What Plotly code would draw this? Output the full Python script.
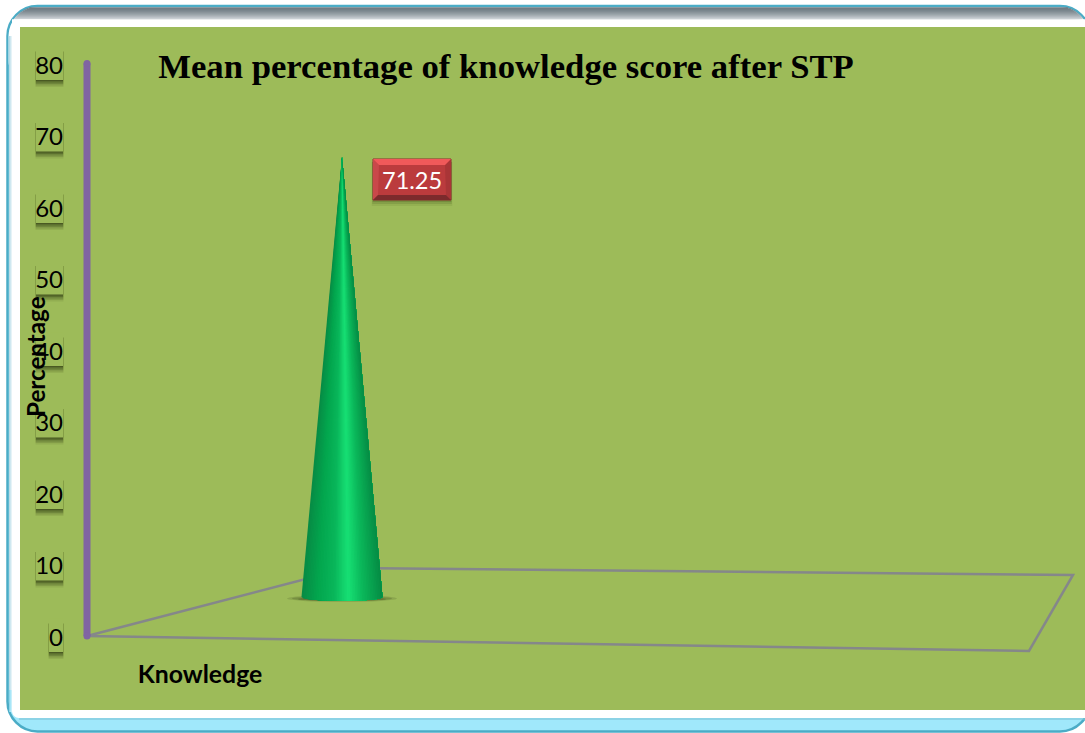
import math
import plotly.graph_objects as go

# ---- data ----
categories = ["Knowledge"]
series_name = "Mean percentage"
series_values = [71.25]
y_ticks = [0, 10, 20, 30, 40, 50, 60, 70, 80]
title_text = "Mean percentage of knowledge score after STP"
y_title = "Percentage"

# ---- page geometry ----
W, H = 1085, 733
L, T, R, B = 64, 40, 0, 77
Y0_PX, Y80_PX = 637.5, 65.5
PER_UNIT = (Y0_PX - Y80_PX) / 80.0
SANS = "Lato"


def val(py):
    return (Y0_PX - py) / PER_UNIT


def xp(px):
    return (px - L) / (W - L - R)


def yp(py):
    return 1 - (py - T) / (H - T - B)


def rounded(x0, y0, x1, y1, r):
    k = 0.45 * r
    pts = [
        f"M{xp(x0+r)},{yp(y0)}", f"L{xp(x1-r)},{yp(y0)}",
        f"C{xp(x1-k)},{yp(y0)} {xp(x1)},{yp(y0+k)} {xp(x1)},{yp(y0+r)}",
        f"L{xp(x1)},{yp(y1-r)}",
        f"C{xp(x1)},{yp(y1-k)} {xp(x1-k)},{yp(y1)} {xp(x1-r)},{yp(y1)}",
        f"L{xp(x0+r)},{yp(y1)}",
        f"C{xp(x0+k)},{yp(y1)} {xp(x0)},{yp(y1-k)} {xp(x0)},{yp(y1-r)}",
        f"L{xp(x0)},{yp(y0+r)}",
        f"C{xp(x0)},{yp(y0+k)} {xp(x0+k)},{yp(y0)} {xp(x0+r)},{yp(y0)} Z",
    ]
    return " ".join(pts)


def mix(a, b, t):
    return "#" + "".join(
        f"{round(int(a[i:i+2],16)*(1-t)+int(b[i:i+2],16)*t):02x}" for i in (1, 3, 5)
    )


def ramp(stops, u):
    for (u0, c0), (u1, c1) in zip(stops, stops[1:]):
        if u <= u1:
            return mix(c0, c1, (u - u0) / (u1 - u0))
    return stops[-1][1]


def prect(x0, y0, x1, y1, fill, opacity=1.0):
    return dict(type="rect", xref="paper", yref="paper", x0=xp(x0), x1=xp(x1),
                y0=yp(y1), y1=yp(y0), fillcolor=fill, opacity=opacity,
                line=dict(width=0), layer="below")


FRAME_R = 30
shapes = []
# outer frame, cyan base so the lower band shows
shapes.append(dict(type="path", xref="paper", yref="paper", layer="below",
                   path=rounded(7.5, 6, 1090, 731.5, FRAME_R), fillcolor="#a0e8fb",
                   line=dict(color="#4bacc6", width=2.5)))
# top of the inner sheet follows the frame's rounded corners
shapes.append(dict(type="path", xref="paper", yref="paper", layer="below",
                   path=rounded(8.6, 7.2, 1088.8, 90, FRAME_R - 1), fillcolor="#ffffff",
                   line=dict(width=0)))
# grey gradient band along the top, following the rounded corners
for i in range(12):
    py = 7.3 + i
    t = (i / 11) ** 1.5
    off = FRAME_R - math.sqrt(max(FRAME_R ** 2 - (FRAME_R - i - 1.5) ** 2, 0))
    shapes.append(prect(8.6 + off, py, 1088.8 - off, 19.3, mix("#6f7b83", "#ccd2d6", t)))
# pale strip down the left
for i, c in enumerate(["#b9dbe6", "#cfe8f0", "#e6f3f7"]):
    shapes.append(prect(9 + i, 36, 10 + i, 690, c))
for i, c in enumerate(["#8fd6ea", "#a8e6f7", "#c8effa"]):
    shapes.append(prect(9 + i, 690, 10 + i, 712, c))
# main white sheet, straight to the right edge, small radius bottom-left
shapes.append(dict(type="path", xref="paper", yref="paper", layer="below",
                   path=rounded(12, 19.3, 1110, 718, 7), fillcolor="#ffffff", line=dict(width=0)))
shapes.append(prect(12, 19.3, 60, 40, "#ffffff"))
# bottom band top edge
shapes.append(prect(19, 718, W, 720, "#7fc4d8", 0.6))
# plot panel
shapes.append(prect(20, 27, W, 710, "#9dbb59"))

# tick-label plates with a soft shadow beneath
for v in y_ticks:
    cy = Y0_PX - v * PER_UNIT - 2
    left = 49 if v == 0 else 36
    for grow, op in [(7, 0.10), (5.5, 0.16), (4, 0.22), (2.5, 0.3), (1, 0.4)]:
        shapes.append(prect(left - grow * 0.06, cy - 12, 63 + grow * 0.06, cy + 16.5 + grow,
                            "#2f3a12", op))
    shapes.append(prect(left, cy - 17, 63, cy + 16.5, "#9dbb59"))

# shadow on the floor under the cone
for x0, x1, y0, y1, op in [(287, 397, 595, 602, 0.18), (292, 392, 596, 601, 0.25), (298, 386, 597, 601, 0.35)]:
    shapes.append(dict(type="circle", xref="x", yref="y", x0=x0, x1=x1,
                       y0=val(y1), y1=val(y0), fillcolor="#3d4a1c", opacity=op,
                       line=dict(width=0), layer="below"))

# data label plate
LX0, LX1, LY0, LY1 = 373, 451, 159, 200
for g, op in [(6, 0.10), (4, 0.16), (2, 0.22)]:
    shapes.append(dict(type="rect", xref="x", yref="y", x0=LX0 - g * 0.2, x1=LX1 + g * 0.2,
                       y0=val(LY1 + g), y1=val(LY0 + 3), fillcolor="#3a4a18", opacity=op,
                       line=dict(width=0), layer="below"))
shapes.append(dict(type="rect", xref="x", yref="y", x0=LX0, x1=LX1, y0=val(LY1), y1=val(LY0),
                   fillcolor="#bb3b3d", line=dict(color="#8a2c2c", width=1), layer="below"))
bevels = [
    ("#c9484a", [(LX0, LY0), (LX0 + 6, LY0 + 6), (LX0 + 5, LY1 - 5), (LX0, LY1)]),
    ("#a93537", [(LX1, LY0), (LX1 - 6, LY0 + 6), (LX1 - 5, LY1 - 5), (LX1, LY1)]),
    ("#f0595a", [(LX0, LY0), (LX1, LY0), (LX1 - 6, LY0 + 6), (LX0 + 6, LY0 + 6)]),
    ("#7c2a2c", [(LX0, LY1), (LX1, LY1), (LX1 - 5, LY1 - 5), (LX0 + 5, LY1 - 5)]),
]
for col, pts in bevels:
    d = "M" + " L".join(f"{px},{val(py)}" for px, py in pts) + " Z"
    shapes.append(dict(type="path", xref="x", yref="y", layer="below", line=dict(width=0),
                       fillcolor=col, path=d))

fig = go.Figure()

# floor of the 3-D chart
floor_x = [87, 348, 1073, 1029, 87]
floor_y = [val(636), val(568), val(575), val(651), val(636)]
fig.add_trace(go.Scatter(x=floor_x, y=floor_y, mode="lines", hoverinfo="skip", showlegend=False,
                         line=dict(color="#85878a", width=2.5)))

# value axis post (its ends sit just off the label positions in the 3-D view)
fig.add_trace(go.Scatter(x=[87, 87], y=[val(636), val(63.5)], mode="lines+markers", hoverinfo="skip",
                         showlegend=False, line=dict(color="#8064a2", width=7),
                         marker=dict(color="#8064a2", size=7)))

# the cone: its height comes from the value, foreshortened by the 3-D view
CX, CR = 342, 40.5
BASE_V = val(601)
TOP_V = val(157)
DEPTH = (TOP_V - BASE_V) / series_values[0]
top_v = BASE_V + series_values[0] * DEPTH
stops = [(-1, "#078b44"), (-0.6, "#03a64e"), (-0.2, "#09b65a"), (0.16, "#17e074"),
         (0.5, "#0bb95b"), (1, "#058c44")]
N = 48


def base_y(u):
    return BASE_V + (4 * (1 - math.sqrt(max(1 - u * u, 0)))) / PER_UNIT


# painted left to right, each slice running on to the right edge so no seams show
for i in range(N):
    us = [-1 + 2 * k / N for k in range(i, N + 1)]
    c = ramp(stops, -1 + 2 * (i + 0.5) / N)
    fig.add_trace(go.Scatter(x=[CX] + [CX + CR * u for u in us] + [CX],
                             y=[top_v] + [base_y(u) for u in us] + [top_v], mode="lines",
                             fill="toself", fillcolor=c, line=dict(color=c, width=0),
                             hoverinfo="skip", showlegend=False))

fig.add_annotation(x=(LX0 + LX1) / 2, y=val((LY0 + LY1) / 2), xref="x", yref="y",
                   text=f"{series_values[0]:.2f}", showarrow=False,
                   font=dict(family=SANS, size=23.5, color="#ffffff"))
fig.add_annotation(x=xp(35), y=val(357), xref="paper", yref="y", text=f"<b>{y_title}</b>",
                   textangle=-90, showarrow=False, xanchor="center", yanchor="middle",
                   font=dict(family=SANS, size=24.2, color="#000000"))

fig.update_layout(
    width=W, height=H, margin=dict(l=L, r=R, t=T, b=B, pad=0),
    paper_bgcolor="#ffffff", plot_bgcolor="rgba(0,0,0,0)", showlegend=False,
    shapes=shapes,
    title=dict(text=f"<b>{title_text}</b>", x=506 / W, y=1 - 66 / H, xanchor="center",
               yanchor="middle", xref="container", yref="container",
               font=dict(family="Liberation Serif", size=34.7, color="#000000")),
    xaxis=dict(range=[L, W], tickmode="array", tickvals=[200], ticktext=[f"<b>{categories[0]}</b>"],
               showgrid=False, zeroline=False, showline=False, ticks="", ticklabelstandoff=1,
               tickfont=dict(family=SANS, size=24.8, color="#000000"), fixedrange=True),
    yaxis=dict(range=[val(H - B), val(T)], tickmode="array", tickvals=y_ticks,
               ticktext=[str(v) for v in y_ticks], showgrid=False, zeroline=False,
               showline=False, ticks="", tickfont=dict(family=SANS, size=24, color="#000000"),
               fixedrange=True),
)

fig.write_html("out.html", config={"displayModeBar": False},
               post_script="document.body.style.margin='0';document.body.style.overflow='hidden';")
